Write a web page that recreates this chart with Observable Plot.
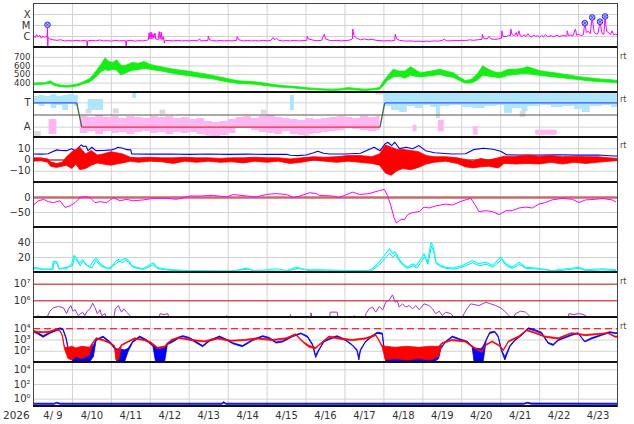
<!DOCTYPE html>
<html><head><meta charset="utf-8">
<script src="https://cdn.jsdelivr.net/npm/d3@7"></script>
<script src="https://cdn.jsdelivr.net/npm/@observablehq/plot@0.6"></script>
<style>
body{margin:0;background:#fff;}
#chart{position:relative;width:634px;height:424px;overflow:hidden;font-family:"DejaVu Sans",sans-serif;}
#chart svg{position:absolute;left:0;overflow:visible;}
.sep{position:absolute;left:33px;width:584px;height:2.5px;background:#111;}
.rt{position:absolute;left:620px;font-size:8px;color:#444;line-height:8px;}
.yr{position:absolute;left:3px;top:409px;font-size:10.5px;color:#333;line-height:12px;}
</style></head><body><div id="chart"></div><script>
// ---------- data (t = days since 2026-04-09 00:00 UT) ----------
const xray = [[0,1.2e-6],[0.04,8e-7],[0.08,1.5e-6],[0.12,9e-7],[0.16,1.3e-6],[0.2,7e-7],[0.24,1.1e-6],[0.28,8e-7],[0.32,1e-6],[0.35,9e-7],[0.36,1.15e-5],[0.365,5e-8],[0.375,8e-7],[0.42,6e-7],[0.5,5e-7],[0.6,4.5e-7],[0.7,5e-7],[0.8,4e-7],[0.9,4.2e-7],[1,4e-7],[1.1,4.5e-7],[1.2,4e-7],[1.3,4.3e-7],[1.37,4e-7],[1.38,5e-8],[1.39,4e-7],[1.5,4.5e-7],[1.6,4e-7],[1.7,4.8e-7],[1.8,4e-7],[1.9,4.2e-7],[2,3.8e-7],[2.1,4.5e-7],[2.2,4e-7],[2.3,4.2e-7],[2.37,4e-7],[2.38,5e-8],[2.39,4e-7],[2.5,4.5e-7],[2.6,3.8e-7],[2.7,4.2e-7],[2.8,4e-7],[2.9,4.5e-7],[2.95,5e-7],[2.97,2.2e-6],[2.99,6e-7],[3.02,2.5e-6],[3.04,6e-7],[3.07,1.8e-6],[3.09,7e-7],[3.12,2e-6],[3.14,6e-7],[3.2,5e-7],[3.23,2.8e-6],[3.25,6e-7],[3.28,2.5e-6],[3.3,5e-7],[3.33,1e-6],[3.35,4.5e-7],[3.36,2.5e-7],[3.38,4.5e-7],[3.5,4.2e-7],[3.6,4e-7],[3.7,4.5e-7],[3.8,4e-7],[3.9,4.2e-7],[4,4e-7],[4.1,4.5e-7],[4.2,4e-7],[4.27,6e-7],[4.3,4e-7],[4.4,4.2e-7],[4.48,4.5e-7],[4.49,1.1e-6],[4.52,5e-7],[4.6,4.2e-7],[4.7,4e-7],[4.8,4.3e-7],[4.9,4e-7],[5,4.2e-7],[5.1,4e-7],[5.22,4.5e-7],[5.23,1e-6],[5.27,5e-7],[5.4,4e-7],[5.5,4.3e-7],[5.6,4e-7],[5.7,4.2e-7],[5.8,4e-7],[5.9,4.5e-7],[6,4e-7],[6.1,4.5e-7],[6.15,8e-7],[6.2,5e-7],[6.24,7e-7],[6.3,4.5e-7],[6.4,4e-7],[6.5,4.3e-7],[6.6,4e-7],[6.7,4.5e-7],[6.8,4e-7],[6.9,4.2e-7],[7.02,4.5e-7],[7.03,1.1e-6],[7.06,6e-7],[7.2,4.5e-7],[7.3,4.2e-7],[7.4,4.5e-7],[7.47,1.6e-6],[7.5,6e-7],[7.6,4.5e-7],[7.7,4.2e-7],[7.8,4.5e-7],[7.9,4e-7],[8,4.3e-7],[8.1,4.5e-7],[8.19,6e-7],[8.2,4.7e-6],[8.23,1.2e-6],[8.3,7e-7],[8.4,5e-7],[8.5,6e-7],[8.6,5e-7],[8.7,5.5e-7],[8.8,4.5e-7],[8.9,4.2e-7],[9,4e-7],[9.1,4.2e-7],[9.2,4e-7],[9.28,4.5e-7],[9.29,1.6e-6],[9.33,6e-7],[9.4,4.5e-7],[9.5,4e-7],[9.6,3.8e-7],[9.7,4e-7],[9.8,3.6e-7],[9.9,3.8e-7],[10,3.5e-7],[10.1,3.8e-7],[10.2,3.6e-7],[10.3,4e-7],[10.4,3.8e-7],[10.5,4.5e-7],[10.55,6e-7],[10.6,4.2e-7],[10.7,4e-7],[10.8,4.5e-7],[10.9,4.2e-7],[11,4.5e-7],[11.1,4.2e-7],[11.2,5e-7],[11.3,4.5e-7],[11.4,5e-7],[11.52,5.5e-7],[11.53,1.6e-6],[11.56,7e-7],[11.65,6e-7],[11.7,1e-6],[11.75,6e-7],[11.85,5.5e-7],[11.95,6e-7],[12.02,7e-7],[12.03,3.3e-6],[12.06,1e-6],[12.15,1e-6],[12.2,1.3e-6],[12.25,1.2e-6],[12.26,4.7e-6],[12.29,1.5e-6],[12.35,1.2e-6],[12.4,2.3e-6],[12.43,1.1e-6],[12.47,3.3e-6],[12.5,1.2e-6],[12.55,1e-6],[12.6,1.4e-6],[12.65,1e-6],[12.7,1.8e-6],[12.75,1e-6],[12.8,9e-7],[12.85,1.4e-6],[12.9,1e-6],[12.95,1.2e-6],[13,9e-7],[13.05,1.3e-6],[13.1,9e-7],[13.15,1.5e-6],[13.2,1e-6],[13.3,1.2e-6],[13.35,9e-7],[13.45,1.3e-6],[13.5,1e-6],[13.6,1.2e-6],[13.7,1.1e-6],[13.71,3.3e-6],[13.74,1.2e-6],[13.8,1.4e-6],[13.85,1.1e-6],[13.92,4.7e-6],[13.95,1.3e-6],[14,1.65e-6],[14.05,1.2e-6],[14.12,1.4e-6],[14.16,1.65e-5],[14.2,2.3e-6],[14.25,3e-6],[14.3,1.8e-6],[14.35,5.4e-5],[14.4,2.5e-6],[14.45,1.6e-6],[14.5,2e-6],[14.55,2.2e-5],[14.6,2e-6],[14.65,1.6e-6],[14.68,6.6e-5],[14.72,3e-6],[14.77,2.3e-6],[14.82,1.4e-6],[14.86,3.3e-6],[14.9,1.4e-6],[14.95,1.6e-6],[15,1.4e-6]];
const flares = [[0.36,1.15e-5],[14.16,1.65e-5],[14.35,5.4e-5],[14.55,2.2e-5],[14.68,6.6e-5]];
const xrayTicks = [[1e-6,"C"],[1e-5,"M"],[1e-4,"X"]];

const speed = [[0,372,392],[0.15,377,397],[0.3,382,398],[0.45,392,420],[0.55,367,388],[0.7,352,372],[0.85,347,367],[1,350,372],[1.15,362,382],[1.3,388,412],[1.45,405,445],[1.55,440,495],[1.65,480,555],[1.75,530,615],[1.85,550,690],[1.95,540,645],[2.05,555,635],[2.15,545,665],[2.25,490,605],[2.35,505,595],[2.45,525,615],[2.55,545,635],[2.7,550,625],[2.85,565,645],[3,555,615],[3.15,545,595],[3.3,535,585],[3.5,515,565],[3.7,500,550],[3.9,485,540],[4.1,475,525],[4.3,460,510],[4.5,450,495],[4.7,435,475],[4.9,415,455],[5.1,400,435],[5.3,390,420],[5.5,385,415],[5.7,380,410],[5.9,368,397],[6.1,358,382],[6.3,348,372],[6.5,342,362],[6.7,337,356],[6.9,328,347],[7.1,320,338],[7.3,314,330],[7.5,310,326],[7.7,307,323],[7.9,312,328],[8.1,318,342],[8.3,312,332],[8.5,307,323],[8.7,312,328],[8.9,322,342],[9,365,415],[9.1,425,475],[9.25,465,555],[9.4,475,535],[9.55,450,535],[9.7,485,585],[9.8,475,555],[9.95,465,515],[10.1,475,525],[10.3,485,540],[10.45,495,555],[10.6,475,535],[10.8,460,515],[10.95,425,465],[11.1,395,425],[11.25,395,435],[11.4,425,495],[11.55,485,595],[11.7,475,555],[11.85,465,525],[12,455,515],[12.2,485,555],[12.4,495,555],[12.55,505,565],[12.7,505,585],[12.85,495,565],[13,485,540],[13.2,475,525],[13.4,465,515],[13.6,455,500],[13.8,445,485],[14,435,470],[14.2,425,460],[14.4,415,450],[14.6,410,440],[14.8,405,435],[15,400,425]];
const speedTicks = [400,500,600,700];

const sector = [[0,1],[1.11,1],[1.24,-1],[8.9,-1],[9.02,1],[15,1]];
const sectorColors = ["#3355ff","#3d6b3d","#e83030","#3d6b3d","#3355ff"];
const sectorTicks = [[1,"T"],[-1,"A"]];
const lightBlueA = [[0,0.86,1.52],[0.15,0.7,1.6],[0.3,0.95,1.52],[0.45,0.53,1.69],[0.6,0.78,1.52],[0.75,0.37,1.6],[0.9,0.86,1.69],[1.05,0.7,1.6],[1.15,0.86,1.52]];
const lightBlueB = [[9,0.7,1.77],[9.2,0.37,1.77],[9.4,0.2,1.77],[9.6,0.7,1.77],[9.8,0.53,1.69],[10,0.78,1.77],[10.2,0.62,1.69],[10.35,0.04,1.77],[10.45,0.7,1.69],[10.7,0.78,1.77],[11,0.62,1.69],[11.3,0.53,1.77],[11.6,0.7,1.69],[11.9,0.78,1.77],[12.1,0.12,1.69],[12.3,0.53,1.77],[12.55,0.29,1.69],[12.7,0.7,1.77],[13,0.78,1.69],[13.3,0.62,1.77],[13.6,0.7,1.69],[13.9,0.45,1.77],[14.1,0.2,1.77],[14.3,0.7,1.69],[14.6,0.78,1.77],[14.85,0.62,1.69],[15,0.62,1.69]];
const pinkA = [[1.2,-1.52,-0.12],[1.4,-1.36,-0.2],[1.6,-1.6,-0.04],[1.8,-1.36,-0.2],[2,-1.52,-0.12],[2.2,-1.44,-0.29],[2.4,-1.6,-0.12],[2.6,-1.44,-0.2],[2.8,-1.36,-0.29],[3,-1.52,-0.12],[3.2,-1.44,-0.2],[3.4,-1.6,-0.12],[3.6,-1.44,-0.29],[3.8,-1.52,-0.2],[4,-1.44,-0.37],[4.2,-1.6,-0.29],[4.4,-1.69,-0.53],[4.6,-1.77,-0.62],[4.8,-1.69,-0.53],[5,-1.52,-0.37],[5.2,-1.11,-0.2],[5.4,-1.03,-0.12],[5.6,-1.27,-0.29],[5.8,-1.44,-0.12],[6,-1.52,-0.04],[6.2,-1.6,-0.2],[6.4,-1.36,-0.29],[6.6,-1.6,-0.37],[6.8,-1.69,-0.45],[7,-1.6,-0.29],[7.2,-1.52,-0.37],[7.4,-1.44,-0.29],[7.6,-1.36,-0.2],[7.8,-1.27,-0.12],[8,-1.11,-0.2],[8.2,-1.2,-0.29],[8.4,-1.27,-0.12],[8.6,-1.36,-0.2],[8.8,-1.27,-0.12],[8.9,-1.27,-0.12]];
const pinkClusters = [[0.4,0.6,-1.6,-0.37],[9.75,9.85,-1.38,-0.84],[10.4,10.55,-1.38,-0.43],[11.3,11.42,-1.66,-0.95],[12.9,13.45,-1.66,-1.25]];
const lightBlueClusters = [[1.4,1.8,0.37,1.27],[2.55,2.65,1.36,1.77],[6.6,6.7,0.37,1.6]];
const grayClusters = [[0,0.2,-1.77,-1.36],[1.35,1.5,0.1,0.45],[2.05,2.2,0.1,0.5],[3.25,3.4,0.05,0.4],[4.45,4.6,-1.77,-1.5],[5.85,6,0.05,0.4],[6.95,7.1,-1.8,-1.6],[10.35,10.45,-0.29,0.2],[12.5,12.65,-0.2,0.3],[8.8,15,1.64,1.85]];

const bt = [[0,5.4],[0.2,5.2],[0.38,5.5],[0.43,6.5],[0.6,9],[0.7,8.5],[0.85,8.3],[0.98,10],[1.1,7.7],[1.15,11],[1.23,13.4],[1.28,12],[1.35,12.5],[1.4,8.3],[1.5,11.3],[1.6,8.3],[1.8,8.5],[2,9],[2.1,10],[2.17,11.3],[2.3,10.4],[2.4,9.2],[2.5,9],[2.52,5.4],[3,5.2],[3.5,5.3],[4,5],[4.5,5.3],[5,5],[5.5,5.2],[6,5],[6.5,5.1],[6.6,4.2],[6.8,3.9],[7,4.5],[7.2,6.5],[7.3,7.7],[7.45,6],[7.6,5.4],[8,5.4],[8.4,6],[8.6,9.2],[8.75,11.3],[8.9,8.3],[9.03,14.3],[9.1,15.8],[9.2,12.8],[9.28,15.8],[9.4,10.1],[9.57,11.3],[9.74,10],[9.9,12.8],[10.07,8.3],[10.3,6.5],[10.75,5.4],[11.1,5.6],[11.3,9.2],[11.55,10.4],[11.8,9.5],[12,7.7],[12.15,4.7],[12.5,4.5],[13,4.4],[13.5,4.6],[14,4.3],[14.5,4.5],[14.9,3.5],[15,3.5]];
const bz = [[0,-1.5,1.5],[0.2,-1,1.5],[0.38,-2.5,0.5],[0.45,-6,-2],[0.6,-7,-3.5],[0.75,-6,-2.5],[0.85,-5,2],[1,-8,7],[1.1,-4,9],[1.2,-9,11],[1.35,-8,5],[1.5,-5,8],[1.65,-3,4],[1.8,-4,5],[2,-5,7],[2.15,-4,6],[2.3,-3,5],[2.5,-1.5,2],[2.7,-2.5,1.5],[3,-1.5,2],[3.3,-2,1.5],[3.6,-3.5,1.5],[3.9,-1.5,2],[4.2,-2.5,1.5],[4.5,-1.5,1.5],[4.8,-2.5,1],[5.1,-2,1.5],[5.4,-3,1.5],[5.7,-1.5,2],[6,-2.5,1.5],[6.3,-1.5,1.5],[6.6,-3.5,0.5],[6.9,-2.5,1.5],[7.2,-0.5,2.5],[7.5,-1.5,2],[7.8,-2.5,2.5],[8.1,-1.5,3.5],[8.4,-2.5,3.5],[8.7,-3.5,2.5],[8.9,-5,5],[9.05,-12,13],[9.2,-14,11],[9.35,-10,9],[9.5,-8,9],[9.7,-9,8],[9.9,-7,7],[10.1,-4,3.5],[10.3,-2.5,2.5],[10.6,-1.5,2.5],[10.9,-3.5,1.5],[11.1,-6.5,0],[11.3,-7.5,-1.5],[11.5,-6.5,1],[11.7,-6,-0.5],[11.95,-7.5,1.5],[12.1,-3.5,3],[12.4,-4,3],[12.7,-3.5,4],[13,-4,3],[13.3,-2.5,3.5],[13.6,-4,2.5],[13.9,-2.5,3],[14.2,-3.5,2.5],[14.5,-2.5,2.5],[14.8,-1.5,1.5],[15,-1,1]];
const imfTicks = [-10,0,10];

const dst = [[0,-25],[0.13,-11],[0.26,-6],[0.38,-14],[0.51,-17],[0.68,-11],[0.81,-33],[0.94,-28],[1.07,-17],[1.2,0],[1.32,3],[1.45,0],[1.58,-17],[1.71,-14],[1.88,-17],[2.05,0],[2.22,-11],[2.39,-6],[2.56,-11],[2.82,-8],[3.08,-3],[3.42,-3],[3.68,-6],[4.02,5],[4.27,5],[4.62,7],[4.96,2],[5.13,10],[5.47,5],[5.73,2],[5.98,10],[6.24,13],[6.5,10],[6.67,0],[6.84,5],[7.09,16],[7.26,13],[7.34,7],[7.68,5],[7.85,0],[8.2,18],[8.37,10],[8.62,13],[8.88,23],[9.01,27],[9.09,7],[9.18,-28],[9.26,-67],[9.32,-85],[9.39,-78],[9.46,-72],[9.52,-75],[9.61,-57],[9.74,-50],[9.91,-47],[10.03,-32],[10.16,-35],[10.33,-28],[10.59,-22],[10.76,-25],[11.02,-11],[11.23,-3],[11.36,-28],[11.44,-47],[11.62,-44],[11.79,-47],[11.96,-57],[12.13,-44],[12.3,-44],[12.47,-35],[12.64,-32],[12.81,-35],[12.98,-22],[13.15,-17],[13.32,-8],[13.58,-3],[13.84,-6],[14.01,-17],[14.18,-8],[14.44,-6],[14.61,-3],[14.86,-8],[14.95,-14]];
const dstTicks = [-50,0];

const cyanA = [[0,7.1],[0.13,5.8],[0.26,4.2],[0.47,4.9],[0.51,15],[0.6,14.7],[0.64,5.8],[0.85,4.9],[0.98,11.6],[1.04,22.7],[1.11,19.1],[1.18,11.6],[1.26,17.3],[1.35,10.2],[1.45,8.4],[1.54,16],[1.61,19.1],[1.71,11.6],[1.84,7.1],[1.97,4.9],[2.09,13.8],[2.18,17.3],[2.26,16],[2.35,19.1],[2.44,16],[2.52,9.3],[2.65,7.1],[2.82,4.9],[3.08,12.9],[3.16,7.1],[3.42,4.2],[3.93,2.7],[4.27,2.7],[4.7,2.2],[5.13,2],[5.47,5.8],[5.64,2.7],[5.98,3.6],[6.24,4.9],[6.5,2.7],[6.75,7.1],[7,3.6],[7.26,3.6],[7.34,3.6],[8.2,2.7],[8.62,2.7],[8.75,7.1],[8.88,13.8],[9.01,22.7],[9.14,31.6],[9.22,24.9],[9.29,28],[9.39,18.2],[9.48,11.6],[9.61,7.1],[9.74,11.6],[9.82,8.4],[9.95,18.2],[10.03,24.9],[10.12,13.8],[10.21,40.4],[10.26,36],[10.33,14.7],[10.42,10.2],[10.59,7.1],[10.76,5.8],[11.02,9.3],[11.27,16],[11.44,11.6],[11.62,13.8],[11.79,9.3],[12,20.4],[12.13,11.6],[12.3,7.1],[12.47,13.8],[12.64,7.1],[12.9,5.8],[13.32,2.7],[13.67,4.9],[14.01,7.1],[14.18,3.6],[14.61,4.9],[14.95,3.6]];
const cyanB = [[0,5],[0.5,4],[0.52,13],[0.62,12],[0.66,4.5],[1,9],[1.05,19],[1.12,16],[1.2,9],[1.27,15],[1.4,8],[1.5,6],[1.6,16],[1.72,9],[1.9,5],[2.1,11],[2.2,15],[2.3,13],[2.36,17],[2.45,13],[2.55,7],[2.8,4],[3.08,10],[3.2,5],[3.5,3],[4,1.8],[5,1.5],[5.5,4.5],[5.7,2],[6.5,2],[6.8,5.5],[7.1,2.5],[8,2],[8.7,3],[8.9,11],[9.03,19],[9.15,26],[9.23,20],[9.3,24],[9.4,15],[9.5,9],[9.6,5.5],[9.75,9],[9.85,6],[9.97,15],[10.05,21],[10.13,11],[10.22,35],[10.27,30],[10.35,12],[10.45,8],[10.6,5.5],[10.8,4.5],[11,7],[11.28,13],[11.45,9],[11.63,11],[11.8,7],[12.02,17],[12.15,9],[12.3,5.5],[12.48,11],[12.65,5.5],[13,4.5],[13.4,2],[13.7,3.6],[14,5.5],[14.2,2.5],[14.6,3.6],[14.95,2.7]];
const cyanTicks = [20,40];

const electrons = [[0,6e4],[0.1,6e4],[0.12,1.3e5],[0.2,6e4],[0.25,1.2e5],[0.3,6e4],[0.42,2.4e5],[0.51,3.8e5],[0.64,4.6e5],[0.77,3.8e5],[0.85,1.7e5],[0.9,3.3e5],[0.96,5.2e5],[1.01,2.4e5],[1.07,2.9e5],[1.15,1.3e5],[1.26,2.1e5],[1.32,1.3e5],[1.38,2.4e5],[1.45,3.3e5],[1.52,7.2e5],[1.58,3.8e5],[1.64,1.7e5],[1.71,2.9e5],[1.75,1.3e5],[1.84,1.7e5],[1.88,6e4],[2.05,6e4],[2.1,3.3e5],[2.18,5.2e5],[2.26,2.1e5],[2.32,3.3e5],[2.39,2.1e5],[2.48,1.3e5],[2.55,6e4],[3.2,6e4],[3.25,1.7e5],[3.35,1.5e5],[3.45,1.7e5],[3.5,6e4],[4.12,6e4],[4.15,1.1e5],[4.18,6e4],[4.93,6e4],[4.96,1.3e5],[5,6e4],[6.58,6e4],[6.6,1.5e5],[6.64,6e4],[7.1,6e4],[7.13,1.9e5],[7.17,6e4],[7.6,6e4],[7.62,2.1e5],[7.8,2.1e5],[7.83,6e4],[8.22,6e4],[8.24,1.3e5],[8.27,6e4],[8.5,6e4],[8.54,1.7e5],[8.62,3.3e5],[8.71,4.2e5],[8.79,2.1e5],[8.88,4.6e5],[8.97,2.9e5],[9.05,8.3e5],[9.14,1.15e6],[9.22,2.3e6],[9.29,8.3e5],[9.35,9.5e5],[9.39,4.2e5],[9.48,6.6e5],[9.56,4.2e5],[9.65,5.2e5],[9.74,3.3e5],[9.82,5.2e5],[9.91,2.9e5],[10.03,6.6e5],[10.16,5.2e5],[10.25,3.3e5],[10.33,1.7e5],[10.42,2.4e5],[10.5,1.3e5],[10.59,2.1e5],[10.72,1.7e5],[10.8,1.05e5],[10.85,6e4],[10.97,6e4],[11.06,1.7e5],[11.15,3.8e5],[11.23,6.6e5],[11.32,6e5],[11.44,5.2e5],[11.62,8.3e5],[11.74,6.6e5],[11.87,5.2e5],[12,3.8e5],[12.13,2.1e5],[12.21,1.3e5],[12.28,6e4],[12.38,1.7e5],[12.51,2.4e5],[12.64,2.1e5],[12.77,1.05e5],[12.81,6e4],[13.71,6e4],[13.75,1.7e5],[13.88,1.5e5],[14,1.7e5],[14.09,1.6e5],[14.18,1.3e5],[14.22,6e4],[15,6e4]];
const electronLevels = [1e6,1e7];

const fluxBlue = [[0,5e3,7e3],[0.13,3e3,4e3],[0.26,1.6e3,2.2e3],[0.43,3.5e3,4.5e3],[0.6,6e3,7.5e3],[0.68,9e3,1.1e4],[0.77,7e3,9e3],[0.85,1.1e3,1.5e3],[0.9,140,200],[0.98,30,60],[1.03,10,120],[1.15,10,150],[1.3,10,100],[1.45,10,150],[1.55,30,300],[1.62,800,1000],[1.8,1.6e3,2e3],[2,400,550],[2.13,100,150],[2.15,10,150],[2.35,10,120],[2.44,80,160],[2.56,550,700],[2.74,1.6e3,2e3],[2.91,800,1000],[3.08,250,350],[3.15,10,250],[3.25,10,150],[3.38,10,200],[3.45,350,500],[3.59,600,800],[3.76,1.4e3,1.8e3],[3.85,1.8e3,2.2e3],[4.02,1.2e3,1.5e3],[4.19,500,650],[4.36,230,290],[4.53,700,900],[4.79,1.6e3,2e3],[4.96,900,1.1e3],[5.13,420,520],[5.38,230,290],[5.64,800,1e3],[5.9,1.8e3,2.2e3],[6.07,1.2e3,1.5e3],[6.24,480,600],[6.41,600,750],[6.67,1.8e3,2.2e3],[6.88,3.2e3,3.8e3],[7.05,1.6e3,2e3],[7.18,300,400],[7.26,25,40],[7.34,100,130],[7.47,600,700],[7.64,1.1e3,1.4e3],[7.81,1.8e3,2.2e3],[8.03,800,1e3],[8.2,300,350],[8.32,100,130],[8.37,15,30],[8.41,100,130],[8.54,600,700],[8.71,1.8e3,2.2e3],[8.84,3.5e3,4.5e3],[8.97,3e3,3.8e3],[9.01,200,300],[9.06,10,150],[9.5,10,130],[10,10,120],[10.3,10,150],[10.42,20,160],[10.47,140,180],[10.6,600,700],[10.77,1.6e3,2e3],[10.94,1e3,1.2e3],[11.15,600,700],[11.28,200,260],[11.33,10,180],[11.5,10,150],[11.56,10,250],[11.64,800,1000],[11.73,3.5e3,4.5e3],[11.86,4.5e3,5.5e3],[11.95,1.6e3,2e3],[12.03,100,130],[12.12,15,30],[12.25,230,300],[12.38,800,1000],[12.55,2.3e3,2.8e3],[12.72,9e3,1.1e4],[12.89,6e3,7.5e3],[13.06,3.5e3,4.5e3],[13.23,450,550],[13.36,300,380],[13.49,800,1000],[13.83,2.3e3,2.8e3],[14,3.5e3,4e3],[14.17,600,700],[14.34,1.1e3,1.4e3],[14.6,2.3e3,2.8e3],[14.81,4e3,5e3],[14.95,3.5e3,4e3],[15,3.5e3,4e3]];
const fluxRed = [[0,4e3,5.5e3],[0.26,4e3,5e3],[0.43,4.5e3,5.5e3],[0.6,7e3,9e3],[0.68,6e3,7.5e3],[0.75,2.2e3,2.8e3],[0.81,140,200],[0.9,20,200],[1,15,250],[1.1,30,180],[1.25,20,250],[1.45,40,200],[1.54,460,600],[1.62,1.1e3,1.4e3],[1.8,800,1e3],[1.97,450,550],[2.09,230,290],[2.13,15,100],[2.2,15,150],[2.27,280,350],[2.44,580,700],[2.61,1.1e3,1.4e3],[2.86,800,1e3],[3.03,450,600],[3.2,150,200],[3.38,200,260],[3.55,800,1e3],[3.73,1.3e3,1.6e3],[4.07,800,1e3],[4.4,600,750],[4.74,1.1e3,1.4e3],[5.09,700,850],[5.43,800,1e3],[5.77,1.1e3,1.4e3],[6.15,800,1e3],[6.5,1.1e3,1.4e3],[6.75,2.5e3,3.2e3],[6.92,600,750],[7.09,200,300],[7.26,150,200],[7.34,280,350],[7.6,1.6e3,2e3],[7.85,1.1e3,1.4e3],[8.2,800,1e3],[8.54,1.1e3,1.4e3],[8.8,2.2e3,2.8e3],[8.88,800,1e3],[8.97,200,300],[9.05,15,250],[9.3,20,200],[9.6,15,250],[9.9,20,200],[10.2,15,250],[10.42,30,250],[10.5,420,520],[10.76,800,1e3],[11.1,600,750],[11.36,140,180],[11.53,70,100],[11.62,280,350],[11.79,600,750],[11.96,280,350],[12.08,100,130],[12.21,600,750],[12.47,1.6e3,2e3],[12.68,6e3,7.5e3],[12.9,3.5e3,4.5e3],[13.15,1.6e3,2e3],[13.49,1.1e3,1.4e3],[13.83,3.5e3,4e3],[14.18,2.2e3,2.8e3],[14.52,2.8e3,3.4e3],[14.77,3.5e3,4e3],[14.95,1.6e3,2e3],[15,1.6e3,2e3]];
const fluxThreshold = 1e4;
const fluxTicks = [1e2,1e3,1e4];

const bottomSeries = [[0,0.17,0.24],[0.55,0.17,0.24],[0.6,0.24,0.32],[0.7,0.17,0.24],[4.85,0.17,0.24],[4.9,0.26,0.4],[4.95,0.17,0.24],[12.6,0.17,0.24],[12.7,0.24,0.32],[12.8,0.18,0.25],[15,0.17,0.24]];
const bottomTicks = [1e0,1e2,1e4];

const year = "2026";
// ---------- drawing ----------
const T0 = Date.UTC(2026, 3, 9);
const dt = d => new Date(T0 + d * 864e5);
const dayLines = d3.range(1, 15).map(dt);
const noons = d3.range(0, 15).map(d => dt(d + 0.5));
const chart = document.getElementById("chart");
const SUP = "⁰¹²³⁴⁵⁶⁷⁸⁹";
const pow10 = v => { const e = Math.round(Math.log10(v)); return "10" + String(e).split("").map(c => c === "-" ? "⁻" : SUP[+c]).join(""); };
const P = a => a.map(r => ({t: dt(r[0]), v: r[1]}));
const B = a => a.map(r => ({t: dt(r[0]), lo: r[1], hi: r[2]}));
const R = a => a.map(r => ({t1: dt(r[0]), t2: dt(r[1]), lo: r[2], hi: r[3]}));
const GRID = "#d2d2d2";

function panel(top, bottom, yopts, gridVals, marks, xAxis = false, fontSize = "10px") {
  const pad = 8, mb = xAxis ? 22 : pad;
  const svg = Plot.plot({
    width: 634, height: bottom - top + pad + mb,
    marginLeft: 33, marginRight: 17, marginTop: pad, marginBottom: mb,
    style: {background: "transparent", overflow: "visible", fontFamily: "DejaVu Sans, sans-serif", fontSize, color: "#333"},
    x: xAxis
      ? {type: "utc", domain: [dt(0), dt(15)], ticks: noons, tickFormat: d3.utcFormat("%-m/%e"), tickSize: 0, tickPadding: 5, label: null}
      : {type: "utc", domain: [dt(0), dt(15)], axis: null},
    y: {tickSize: 0, tickPadding: 3, label: null, ...yopts},
    marks: [
      Plot.ruleX(dayLines, {stroke: GRID}),
      Plot.ruleY(gridVals, {stroke: GRID}),
      ...marks,
      Plot.frame({stroke: "#444"})
    ]
  });
  svg.style.top = (top - pad) + "px";
  chart.appendChild(svg);
}
const tops = [3, 47, 92, 137, 182, 227, 272, 317, 362, 406];

// 1: X-ray
panel(tops[0], tops[1], {type: "log", domain: [1e-7, 1e-3], ticks: xrayTicks.map(d => d[0]), tickFormat: v => (xrayTicks.find(d => Math.abs(Math.log10(d[0]) - Math.log10(v)) < 0.01) || [0, ""])[1]},
  xrayTicks.map(d => d[0]), [
  Plot.line(P(xray), {x: "t", y: "v", stroke: "#ff00ff", strokeWidth: 1, clip: true}),
  Plot.dot(P(flares), {x: "t", y: "v", r: 2.8, stroke: "#2a2aff", fill: "#c0c0ff", strokeWidth: 1}),
  Plot.dot(P(flares), {x: "t", y: "v", r: 1.6, symbol: "times", stroke: "#2a2aff", strokeWidth: 0.8})
]);
// 2: solar wind speed
panel(tops[1], tops[2], {domain: [290, 815], ticks: speedTicks}, speedTicks, [
  Plot.areaY(B(speed), {x: "t", y1: "lo", y2: "hi", fill: "#14ee14", stroke: "#14ee14", strokeWidth: 0.8, clip: true})
], false, "8.6px");
// 3: sector
const sectorLinks = sector.slice(1).map((r, i) => ({t1: dt(sector[i][0]), v1: sector[i][1], t2: dt(r[0]), v2: r[1], c: sectorColors[i]}));
panel(tops[2], tops[3], {domain: [-1.85, 1.85], ticks: sectorTicks.map(d => d[0]), tickFormat: v => v > 0 ? "T" : "A"}, sectorTicks.map(d => d[0]), [
  Plot.rect(R(grayClusters), {x1: "t1", x2: "t2", y1: "lo", y2: "hi", fill: "#dadada", clip: true}),
  Plot.areaY(B(pinkA), {x: "t", y1: "lo", y2: "hi", curve: "step-after", fill: "#ffb6f2", clip: true}),
  Plot.rect(R(pinkClusters), {x1: "t1", x2: "t2", y1: "lo", y2: "hi", fill: "#ffb6f2", clip: true}),
  Plot.areaY(B(lightBlueA), {x: "t", y1: "lo", y2: "hi", curve: "step-after", fill: "#aee6ff", clip: true}),
  Plot.areaY(B(lightBlueB), {x: "t", y1: "lo", y2: "hi", curve: "step-after", fill: "#aee6ff", clip: true}),
  Plot.rect(R(lightBlueClusters), {x1: "t1", x2: "t2", y1: "lo", y2: "hi", fill: "#aee6ff", clip: true}),
  Plot.ruleY([0], {stroke: "#555"}),
  Plot.link(sectorLinks, {x1: "t1", y1: "v1", x2: "t2", y2: "v2", stroke: "c", strokeWidth: 1.3})
]);
// 4: IMF
panel(tops[3], tops[4], {domain: [-20, 20], ticks: imfTicks, tickFormat: v => v < 0 ? "−" + (-v) : String(v)}, imfTicks, [
  Plot.line(P(bt), {x: "t", y: "v", stroke: "#0000ff", strokeWidth: 1.1, clip: true}),
  Plot.ruleY([0], {stroke: "#990000"}),
  Plot.areaY(B(bz), {x: "t", y1: "lo", y2: "hi", fill: "#ff0000", stroke: "#ff0000", strokeWidth: 0.8, clip: true})
]);
// 5: Dst
panel(tops[4], tops[5], {domain: [-100, 50], ticks: dstTicks, tickFormat: v => v < 0 ? "−" + (-v) : String(v)}, dstTicks, [
  Plot.ruleY([0], {stroke: "#c86a6a", strokeWidth: 2.5}),
  Plot.line(P(dst), {x: "t", y: "v", stroke: "#ff00ff", strokeWidth: 1, clip: true})
]);
// 6: cyan index
panel(tops[5], tops[6], {domain: [0, 60], ticks: cyanTicks}, cyanTicks, [
  Plot.line(P(cyanB), {x: "t", y: "v", stroke: "#00e5e5", strokeWidth: 1, clip: true}),
  Plot.line(P(cyanA), {x: "t", y: "v", stroke: "#00ffff", strokeWidth: 1.1, clip: true})
]);
// 7: electrons
panel(tops[6], tops[7], {type: "log", domain: [1e5, Math.pow(10, 7.7)], ticks: electronLevels, tickFormat: pow10}, [], [
  Plot.ruleY(electronLevels, {stroke: "#cc0000"}),
  Plot.line(P(electrons), {x: "t", y: "v", stroke: "#a035d5", strokeWidth: 1, clip: true})
]);
// 8: flux
panel(tops[7], tops[8], {type: "log", domain: [10, 1e5], ticks: fluxTicks, tickFormat: pow10}, fluxTicks, [
  Plot.ruleY([fluxThreshold], {stroke: "#e00000", strokeWidth: 1.2, strokeDasharray: "7,4"}),
  Plot.areaY(B(fluxBlue), {x: "t", y1: "lo", y2: "hi", fill: "#0000ff", stroke: "#0000ff", strokeWidth: 0.8, clip: true}),
  Plot.areaY(B(fluxRed), {x: "t", y1: "lo", y2: "hi", fill: "#ff0000", stroke: "#ff0000", strokeWidth: 0.8, clip: true})
]);
// 9: bottom
panel(tops[8], tops[9], {type: "log", domain: [0.1, 1e5], ticks: bottomTicks, tickFormat: pow10}, bottomTicks, [
  Plot.areaY(B(bottomSeries), {x: "t", y1: "lo", y2: "hi", fill: "#0000ff", stroke: "#0000ff", strokeWidth: 0.8, clip: true})
], true);

// separators and labels
tops.slice(1).forEach(y => { const d = document.createElement("div"); d.className = "sep"; d.style.top = (y - 1.25) + "px"; chart.appendChild(d); });
[[57], [100], [146], [282], [327]].forEach(([y]) => { const s = document.createElement("span"); s.className = "rt"; s.style.top = (y - 4) + "px"; s.textContent = "rt"; chart.appendChild(s); });
const yr = document.createElement("span"); yr.className = "yr"; yr.textContent = year; chart.appendChild(yr);
</script></body></html>
